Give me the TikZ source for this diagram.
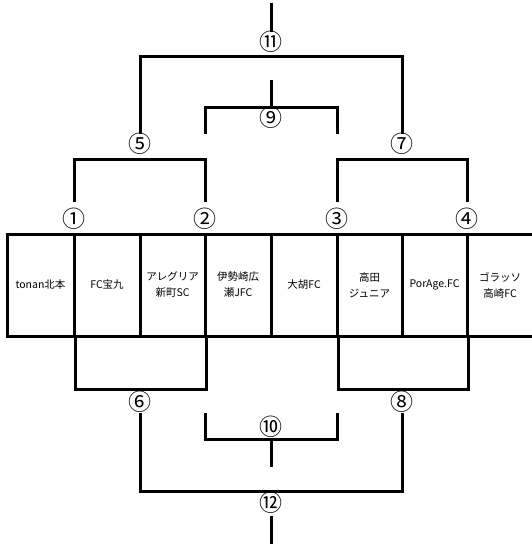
\documentclass[tikz,border=0pt]{standalone}
\usepackage{fontspec}
\newfontfamily\jp{Noto Sans CJK JP}
\begin{document}
\begin{tikzpicture}[x=1pt,y=-1pt,
  line/.style={line width=3pt, line cap=rect},
  cell/.style={draw, line width=3pt, minimum height=102pt, inner sep=0pt,
    align=center, font=\jp\fontsize{10.5}{16}\selectfont},
  num/.style={inner sep=0pt, font=\jp\fontsize{23}{23}\selectfont}]
\useasboundingbox (0,0) rectangle (531,544);
% team cells
\node[cell, minimum width=67pt] (t1) at (40.5,285) {tonan北本};
\node[cell, minimum width=66pt] (t2) at (107,285) {FC宝九};
\node[cell, minimum width=65pt] (t3) at (172.5,285) {アレグリア\\新町SC};
\node[cell, minimum width=66pt] (t4) at (238,285) {伊勢崎広\\瀬JFC};
\node[cell, minimum width=66pt] (t5) at (304,285) {大胡FC};
\node[cell, minimum width=65pt] (t6) at (369.5,285) {高田\\ジュニア};
\node[cell, minimum width=65pt] (t7) at (434.5,285) {PorAge.FC};
\node[cell, minimum width=66pt] (t8) at (500,285) {ゴラッソ\\高崎FC};
% match numbers
\node[num] (n1) at (74,219) {①};
\node[num] (n2) at (205,219) {②};
\node[num] (n3) at (337,219) {③};
\node[num] (n4) at (467,219) {④};
\node[num] (n5) at (140,144) {⑤};
\node[num] (n7) at (402,144) {⑦};
\node[num] (n9) at (271,118) {⑨};
\node[num] (n11) at (271,42) {⑪};
\node[num] (n6) at (140,402) {⑥};
\node[num] (n8) at (402,402) {⑧};
\node[num] (n10) at (271,427) {⑩};
\node[num] (n12) at (271,503) {⑫};
% top brackets
\coordinate (a1) at (74,200); \coordinate (a2) at (205,200);
\coordinate (a3) at (337,200); \coordinate (a4) at (467,200);
\draw[line] (a1) -- (74,159) -- (205,159) -- (a2);
\draw[line] (a3) -- (337,159) -- (467,159) -- (a4);
\coordinate (a5) at (140,132); \coordinate (a7) at (402,132);
\draw[line] (a5) -- (140,56) -- (402,56) -- (a7);
\coordinate (top) at (271,4); \coordinate (a11) at (271,30);
\draw[line] (a11) -- (top);
\coordinate (a9l) at (205,132); \coordinate (a9r) at (337,132);
\draw[line] (a9l) -- (205,107) -- (337,107) -- (a9r);
\coordinate (a9) at (271,107); \coordinate (a9t) at (271,81);
\draw[line] (a9) -- (a9t);
% bottom brackets
\draw[line] (t1.south east) -- ++(0,52) -| (t3.south east);
\draw[line] (t5.south east) -- ++(0,52) -| (t7.south east);
\coordinate (b6) at (140,414); \coordinate (b8) at (402,414);
\draw[line] (b6) -- (140,491) -- (402,491) -- (b8);
\coordinate (b12) at (271,517); \coordinate (bot) at (271,542);
\draw[line] (b12) -- (bot);
\coordinate (b10l) at (205,414); \coordinate (b10r) at (337,414);
\draw[line] (b10l) -- (205,439) -- (337,439) -- (b10r);
\coordinate (b10) at (271,439); \coordinate (b10b) at (271,465);
\draw[line] (b10) -- (b10b);
\end{tikzpicture}
\end{document}
